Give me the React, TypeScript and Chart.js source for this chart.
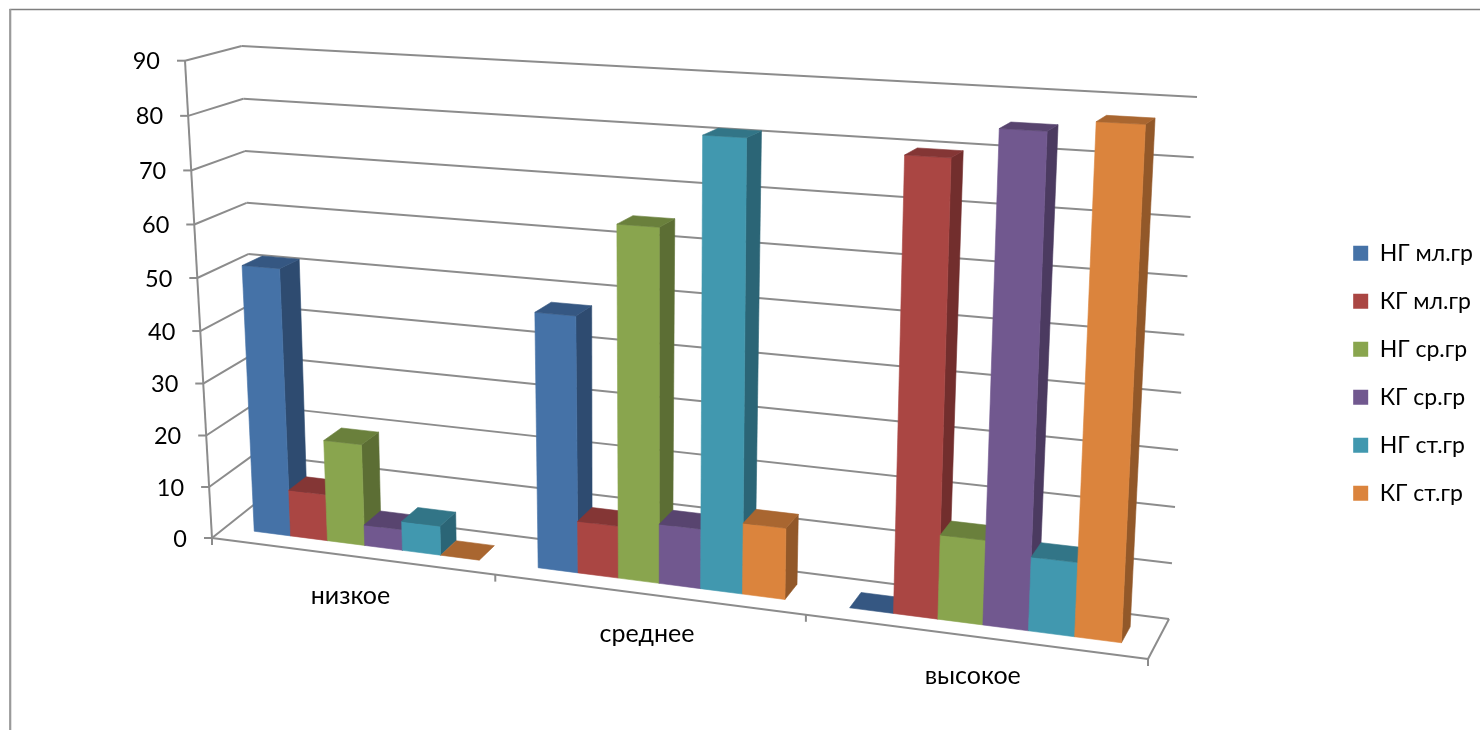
import React, { useEffect, useRef } from "react";
import { Chart, registerables } from "chart.js";

Chart.register(...registerables);

const categories = ["низкое", "среднее", "высокое"];
const seriesNames = ["НГ мл.гр", "КГ мл.гр", "НГ ср.гр", "КГ ср.гр", "НГ ст.гр", "КГ ст.гр"];
const ngMl = [51.5, 47.5, 0];
const kgMl = [9, 9.7, 79.7];
const ngSr = [19.5, 64.5, 15];
const kgSr = [4, 11, 85];
const ngSt = [5.6, 81, 13];
const kgSt = [0, 13, 87];
const seriesValues = [ngMl, kgMl, ngSr, kgSr, ngSt, kgSt];
const frontColors = ["#4572A7", "#AA4643", "#89A54E", "#71588F", "#4198AF", "#DB843D"];
const sideColors = ["#2E4B70", "#722E2D", "#5C6E34", "#4B3A60", "#2B6576", "#925829"];
const topColors = ["#355782", "#843635", "#6A803C", "#58446F", "#327587", "#A96630"];

const FONT = "Lato, 'Open Sans', sans-serif";
const GRID = "#8c8c8c";

// view box of the 3D scene: front/back, bottom/top corners
const A = [212, 538]; // front bottom left
const G = [1148, 659]; // front bottom right
const B = [185, 60.7]; // front top left
const H = [1174, 112]; // front top right
const D = [256, 503]; // back bottom left
const F = [1169, 619]; // back bottom right
const C = [241.7, 46]; // back top left
const E = [1197, 97]; // back top right
const ALPHA = 0.868;
const BETA = 0.957;

const lerp = (a: number, b: number, t: number) => a + (b - a) * t;
const warp = (t: number, k: number) => (k * t) / (1 + (k - 1) * t);

function project(u: number, v: number, w: number): [number, number] {
  const uu = warp(u, ALPHA);
  const vv = warp(v, BETA);
  const out: [number, number] = [0, 0];
  for (let i = 0; i < 2; i++) {
    const fb = lerp(A[i], G[i], uu);
    const ft = lerp(B[i], H[i], uu);
    const bb = lerp(D[i], F[i], uu);
    const bt = lerp(C[i], E[i], uu);
    out[i] = lerp(lerp(fb, ft, vv), lerp(bb, bt, vv), w);
  }
  return out;
}

function poly(ctx: CanvasRenderingContext2D, pts: [number, number][], color: string) {
  ctx.beginPath();
  pts.forEach((p, i) => (i ? ctx.lineTo(p[0], p[1]) : ctx.moveTo(p[0], p[1])));
  ctx.closePath();
  ctx.fillStyle = color;
  ctx.strokeStyle = color;
  ctx.lineWidth = 0.6;
  ctx.fill();
  ctx.stroke();
}

function line(ctx: CanvasRenderingContext2D, a: number[], b: number[]) {
  ctx.beginPath();
  ctx.moveTo(a[0], a[1]);
  ctx.lineTo(b[0], b[1]);
  ctx.stroke();
}

const W0 = 0.3;
const W1 = 0.7;
const BAR_SHIFT = 0.0025;

const scene3d = {
  id: "scene3d",
  beforeDatasetsDraw(chart: any) {
    const ctx: CanvasRenderingContext2D = chart.ctx;
    const { left, right, top, bottom } = chart.chartArea;
    const yScale = chart.scales.y;
    const xScale = chart.scales.x;
    const toU = (px: number) => (px - left) / (right - left);
    const toV = (py: number) => (bottom - py) / (bottom - top);

    ctx.save();
    // picture frame
    ctx.strokeStyle = "#7f7f7f";
    ctx.lineWidth = 1.3;
    line(ctx, [9.5, 9.5], [1480, 9.5]);
    ctx.strokeStyle = "#9a9a9a";
    ctx.lineWidth = 2.2;
    line(ctx, [10.2, 9], [10.2, 730]);

    // walls and value labels
    ctx.strokeStyle = GRID;
    ctx.lineWidth = 2;
    ctx.font = `23.5px ${FONT}`;
    ctx.textAlign = "right";
    ctx.textBaseline = "middle";
    yScale.ticks.forEach((t: any) => {
      const v = toV(yScale.getPixelForValue(t.value));
      const a = project(0, v, 0);
      const b = project(0, v, 1);
      const c = project(1, v, 1);
      line(ctx, [a[0] - 8, a[1]], a);
      line(ctx, a, b);
      line(ctx, b, c);
      ctx.fillStyle = "#000";
      ctx.fillText(String(t.value), a[0] - 25, a[1] + 1);
    });
    line(ctx, project(0, 0, 0), project(0, 1, 0));
    line(ctx, project(0, 0, 0), project(1, 0, 0));
    line(ctx, project(1, 0, 0), project(1, 0, 1));

    // category ticks and labels
    const n = categories.length;
    for (let i = 0; i <= n; i++) {
      const p = project(i / n, 0, 0);
      line(ctx, p, [p[0], p[1] + 7]);
    }
    ctx.font = `25px ${FONT}`;
    ctx.textAlign = "center";
    ctx.fillStyle = "#000";
    categories.forEach((c, i) => {
      const p = project(toU(xScale.getPixelForValue(i)), 0, 0);
      ctx.fillText(c, p[0], p[1] + 40);
    });

    // bars, left to right
    categories.forEach((_, j) => {
      chart.data.datasets.forEach((_d: any, s: number) => {
        const el = chart.getDatasetMeta(s).data[j];
        const u0 = toU(el.x - el.width / 2) + BAR_SHIFT;
        const u1 = toU(el.x + el.width / 2) + BAR_SHIFT;
        const v = toV(el.y);
        if (v > 0) {
          poly(ctx, [project(u1, 0, W0), project(u1, 0, W1), project(u1, v, W1), project(u1, v, W0)], sideColors[s]);
          poly(ctx, [project(u0, 0, W0), project(u1, 0, W0), project(u1, v, W0), project(u0, v, W0)], frontColors[s]);
        }
        poly(ctx, [project(u0, v, W0), project(u1, v, W0), project(u1, v, W1), project(u0, v, W1)], topColors[s]);
      });
    });
    ctx.restore();
    return false;
  },
};

export default function App() {
  const ref = useRef<HTMLCanvasElement>(null);
  useEffect(() => {
    const chart = new Chart(ref.current as HTMLCanvasElement, {
      type: "bar",
      data: {
        labels: categories,
        datasets: seriesNames.map((label, i) => ({
          label,
          data: seriesValues[i],
          backgroundColor: frontColors[i],
          borderWidth: 0,
          barPercentage: 1,
          categoryPercentage: 0.8,
        })),
      },
      options: {
        responsive: false,
        animation: false,
        layout: { padding: { top: 16.5, right: -3 } },
        scales: {
          x: { display: true, grid: { display: false }, border: { display: false }, ticks: { display: false } },
          y: {
            min: 0,
            max: 90,
            grid: { display: false },
            border: { display: false },
            ticks: { display: false, stepSize: 10 },
          },
        },
        plugins: {
          title: { display: false },
          tooltip: { enabled: false },
          legend: {
            display: true,
            position: "right",
            labels: {
              boxWidth: 15,
              boxHeight: 15,
              padding: 25,
              color: "#000",
              font: { family: FONT, size: 23 },
            },
          },
        },
      },
      plugins: [scene3d],
    } as any);
    return () => chart.destroy();
  }, []);
  return (
    <canvas
      ref={ref}
      width={1480}
      height={730}
      style={{ position: "absolute", left: 0, top: 0, width: 1480, height: 730, display: "block" }}
    />
  );
}
